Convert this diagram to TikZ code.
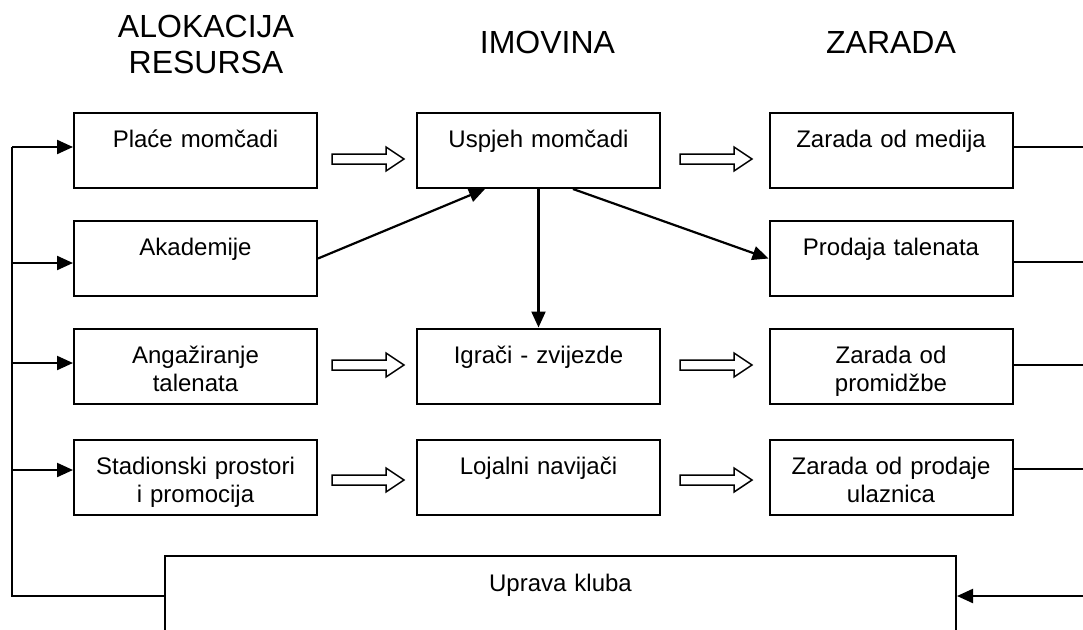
\documentclass[tikz,border=0pt]{standalone}
\usepackage{fontspec}
\setmainfont{Liberation Sans}
\usetikzlibrary{arrows.meta}
\newcommand{\hollowarrow}[1]{\draw[line width=1.5pt, shift={(#1)}] (0,-5) -- (54,-5) -- (54,-12) -- (72,0) -- (54,12) -- (54,5) -- (0,5) -- cycle;}

\begin{document}
\begin{tikzpicture}
	[x=1pt, y=-1pt, line width=2pt,
	block/.style={draw, inner sep=0pt, text width=243pt, align=center, text height=34.5pt, text depth=40.5pt, font=\fontsize{24}{28}\selectfont},
	head/.style={text width=220pt, align=center, anchor=base, inner sep=0pt, font=\fontsize{32}{36}\selectfont},
	feed/.style={line width=2.2pt, -{Triangle[length=16pt,width=14pt]}},
	link/.style={line width=1.6pt}]
	\useasboundingbox (0,0) rectangle (1083,629);
	\clip (0,0) rectangle (1083,629);
	\node[head] (alok) at (206,37) {ALOKACIJA\\RESURSA};
	\node[head] (imov) at (547.5,53) {IMOVINA};
	\node[head] (zar) at (891,53) {ZARADA};
	
	\node[block] (place) at (195.5,150.5) {Plaće momčadi};
	\node[block] (akad) at (195.5,258.5) {Akademije};
	\node[block] (angaz) at (195.5,366) {Angažiranje\\talenata};
	\node[block] (stad) at (195.5,477.5) {Stadionski prostori\\i promocija};
	\node[block] (uspjeh) at (538.5,150.5) {Uspjeh momčadi};
	\node[block] (igraci) at (538.5,366) {Igrači - zvijezde};
	\node[block] (navij) at (538.5,477.5) {Lojalni navijači};
	\node[block] (medij) at (891,150.5) {Zarada od medija};
	\node[block] (prodaja) at (891,258.5) {Prodaja talenata};
	\node[block] (promo) at (891,366) {Zarada od\\promidžbe};
	\node[block] (ulaz) at (891,477.5) {Zarada od prodaje\\ulaznica};
	\node[block, text width=791pt, text height=35.5pt, text depth=44.5pt] (uprava) at (560.5,596) {Uprava kluba};
	
	\hollowarrow{332,159}
	\hollowarrow{680,159}
	\hollowarrow{332,365}
	\hollowarrow{680,365}
	\hollowarrow{332,480}
	\hollowarrow{680,480}
	
	\draw[feed] (akad.east) -- ([xshift=-53.5pt]uspjeh.south);
	\draw[feed] (uspjeh.south) -- (igraci.north);
	\draw[feed] ([xshift=34.5pt]uspjeh.south) -- (prodaja.west);
	
	\coordinate (b1) at (12,147);
	\coordinate (b2) at (12,263);
	\coordinate (b3) at (12,363);
	\coordinate (b4) at (12,470);
	\coordinate (b0) at (12,596);
	\draw[link] (b1) -- (b0) -- (uprava.west);
	\draw[feed] (b1) -- (place.west |- b1);
	\draw[feed] (b2) -- (akad.west |- b2);
	\draw[feed] (b3) -- (angaz.west |- b3);
	\draw[feed] (b4) -- (stad.west |- b4);
	
	\coordinate (r1) at (1083,147);
	\coordinate (r2) at (1083,262);
	\coordinate (r3) at (1083,365);
	\coordinate (r4) at (1083,469);
	\coordinate (r0) at (1083,596);
	\draw[link] (medij.east |- r1) -- (r1);
	\draw[link] (prodaja.east |- r2) -- (r2);
	\draw[link] (promo.east |- r3) -- (r3);
	\draw[link] (ulaz.east |- r4) -- (r4);
	\draw[feed] (r0) -- (uprava.east);
\end{tikzpicture}
\end{document}
